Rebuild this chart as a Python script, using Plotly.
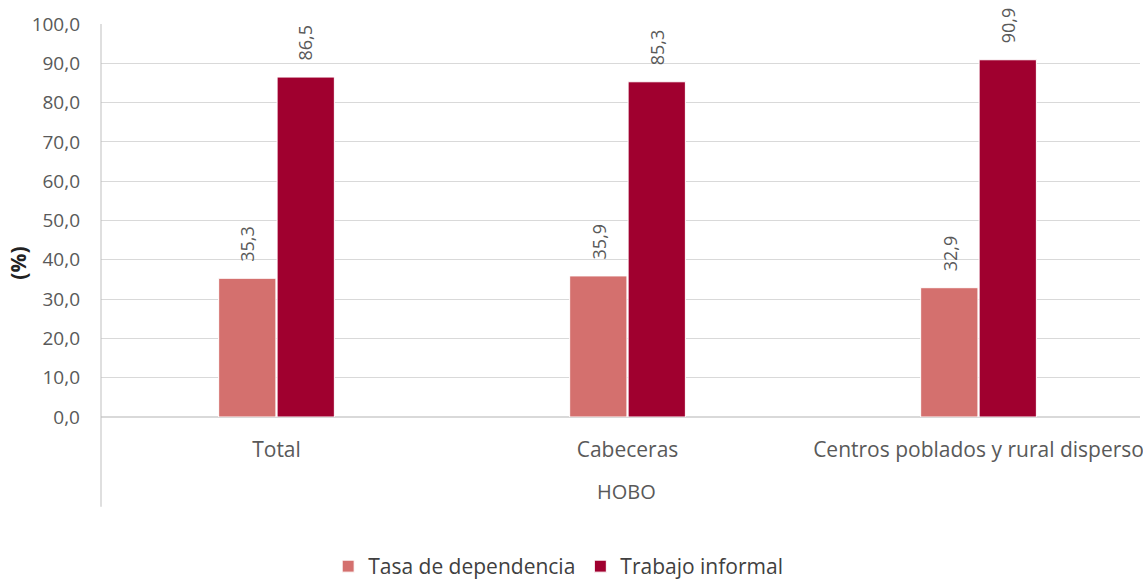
import plotly.graph_objects as go

categories = ["Total", "Cabeceras", "Centros poblados y rural disperso"]
tasa_dependencia = [35.3, 35.9, 32.9]
trabajo_informal = [86.5, 85.3, 90.9]
y_ticks = [0, 10, 20, 30, 40, 50, 60, 70, 80, 90, 100]

c_tasa = "#D4706E"
c_trab = "#A0002F"
grey = "#595959"
font_family = "Open Sans, Noto Sans, sans-serif"

fig = go.Figure()
fig.add_trace(go.Bar(name="Tasa de dependencia", x=categories, y=tasa_dependencia,
                     marker=dict(color=c_tasa, line=dict(color="white", width=1))))
fig.add_trace(go.Bar(name="Trabajo informal", x=categories, y=trabajo_informal,
                     marker=dict(color=c_trab, line=dict(color="white", width=1))))

annotations = []
for series, shift in ((tasa_dependencia, -29), (trabajo_informal, 29)):
    for cat, v in zip(categories, series):
        annotations.append(dict(
            x=cat, y=v, xref="x", yref="y", xshift=shift, yshift=14,
            text=f"{v:.1f}".replace(".", ","), textangle=-90,
            showarrow=False, yanchor="bottom", xanchor="center",
            font=dict(family=font_family, size=18, color=grey)))

annotations.append(dict(x=(628 - 101) / 1042, y=(418 - 493) / 394, xref="paper", yref="paper",
                        text="HOBO", showarrow=False, xanchor="center", yanchor="middle",
                        font=dict(family=font_family, size=20, color=grey)))
annotations.append(dict(x=(18 - 101) / 1042, y=(418 - 264) / 394, xref="paper", yref="paper",
                        text="<b>(%)</b>", textangle=-90, showarrow=False,
                        xanchor="center", yanchor="middle",
                        font=dict(family=font_family, size=21, color="#222222")))

fig.update_layout(
    width=1143, height=587,
    margin=dict(l=101, r=0, t=24, b=169),
    paper_bgcolor="white", plot_bgcolor="white",
    barmode="group", bargap=0.667, bargroupgap=0.02,
    separators=",.",
    font=dict(family=font_family, color=grey),
    annotations=annotations,
    showlegend=True,
    legend=dict(orientation="h", x=0.44, xanchor="center", y=(418 - 568) / 394, yanchor="middle",
                font=dict(family=font_family, size=21, color="#404040"),
                itemwidth=30, traceorder="normal"),
    shapes=[dict(type="line", xref="paper", yref="paper", x0=0, x1=0, y0=1, y1=(418 - 508) / 394,
                 line=dict(color="#BFBFBF", width=1))],
)
fig.update_xaxes(range=[-0.5, 2.46], showgrid=False, showline=False, ticks="",
                 ticklabelstandoff=18,
                 tickfont=dict(family=font_family, size=21, color=grey))
fig.update_yaxes(range=[0, 100], tickvals=y_ticks, tickformat=".1f",
                 showgrid=True, gridcolor="#D9D9D9", gridwidth=1,
                 zeroline=True, zerolinecolor="#D9D9D9", showline=False,
                 ticks="", ticklen=0, ticklabelstandoff=20,
                 tickfont=dict(family=font_family, size=19, color=grey))

fig.write_html("out.html", config={"displayModeBar": False},
               post_script="document.body.style.margin='0';document.body.style.overflow='hidden';")
